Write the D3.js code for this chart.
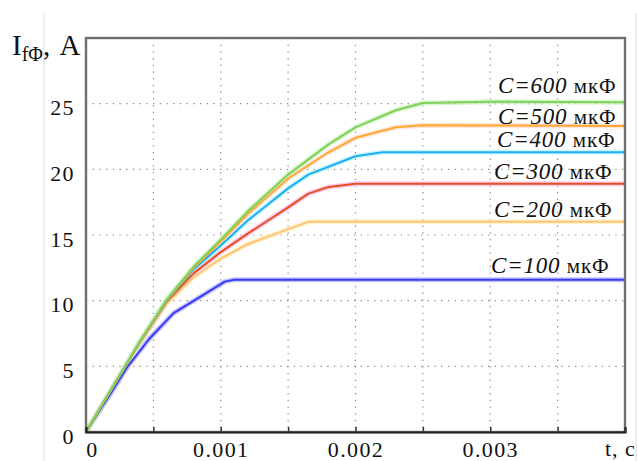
<!DOCTYPE html>
<html>
<head>
<meta charset="utf-8">
<script src="https://cdn.jsdelivr.net/npm/d3@7"></script>
<style>
  html, body { margin: 0; padding: 0; background: #fff; }
  svg { display: block; }
  svg text { font-family: "Liberation Serif", "DejaVu Serif", serif; }
</style>
</head>
<body>
<svg id="chart" width="637" height="461"></svg>
<script>
// I_f(t) for different capacitor values
var capacitances = [100, 200, 300, 400, 500, 600];

var t100 = [0, 0.0002, 0.00031, 0.00047, 0.00065, 0.00085, 0.00103, 0.0011, 0.004];
var i100 = [0, 3.2, 5.0, 7.1, 9.05, 10.3, 11.45, 11.6, 11.6];

var t200 = [0, 0.0002, 0.0004, 0.0006, 0.0008, 0.001, 0.0012, 0.0015, 0.00165, 0.004];
var i200 = [0, 3.4, 6.8, 9.8, 11.8, 13.2, 14.3, 15.45, 16.0, 16.0];

var t300 = [0, 0.0002, 0.0004, 0.0006, 0.0008, 0.001, 0.0012, 0.0015, 0.00165, 0.0018, 0.002, 0.004];
var i300 = [0, 3.45, 6.85, 9.95, 12.1, 13.7, 15.1, 17.1, 18.15, 18.65, 18.9, 18.9];

var t400 = [0, 0.0002, 0.0004, 0.0006, 0.0008, 0.001, 0.0012, 0.0015, 0.00165, 0.002, 0.0022, 0.004];
var i400 = [0, 3.45, 6.85, 10.0, 12.4, 14.2, 16.1, 18.55, 19.6, 21.0, 21.3, 21.3];

var t500 = [0, 0.0002, 0.0004, 0.0006, 0.0008, 0.001, 0.0012, 0.0015, 0.0018, 0.002, 0.0023, 0.0025, 0.004];
var i500 = [0, 3.45, 6.85, 10.05, 12.5, 14.5, 16.6, 19.3, 21.3, 22.4, 23.2, 23.35, 23.3];

var t600 = [0, 0.0002, 0.0004, 0.0006, 0.0008, 0.001, 0.0012, 0.0015, 0.0018, 0.002, 0.0023, 0.0025, 0.003, 0.004];
var i600 = [0, 3.45, 6.9, 10.1, 12.6, 14.65, 16.8, 19.6, 21.9, 23.2, 24.5, 25.05, 25.15, 25.1];

var xTickLabels = [0, 0.001, 0.002, 0.003];
var xGrid = [0.0005, 0.001, 0.0015, 0.002, 0.0025, 0.003, 0.0035];
var yTickLabels = [0, 5, 10, 15, 20, 25];

(function () {
  'use strict';

  var svg = d3.select('#chart');
  var left = 86, top = 38, right = 625, bottom = 432;
  var serif = '"Liberation Serif", "DejaVu Serif", serif';

  var x = d3.scaleLinear().domain([0, 0.004]).range([left, right]);
  var y = d3.scaleLinear().domain([0, 30]).range([bottom, top]);

  var series = [
    { c: 100, t: t100, v: i100, color: '#3a3af5', halo: '#a8a8ff' },
    { c: 200, t: t200, v: i200, color: '#ffc27a', halo: '#fff0b0' },
    { c: 300, t: t300, v: i300, color: '#e6501e', halo: '#f6b8ee' },
    { c: 400, t: t400, v: i400, color: '#1ab0ee', halo: '#b8f0ff' },
    { c: 500, t: t500, v: i500, color: '#ffa830', halo: '#ffd8d0' },
    { c: 600, t: t600, v: i600, color: '#80d05a', halo: '#c8f2b8' }
  ];

  // faint scan edges of the original picture
  svg.append('line').attr('x1', 44).attr('x2', 44).attr('y1', 13).attr('y2', 461)
    .attr('stroke', '#e8e8e8').attr('stroke-width', 1.5);
  svg.append('line').attr('x1', 636).attr('x2', 636).attr('y1', 13).attr('y2', 461)
    .attr('stroke', '#e8e8e8').attr('stroke-width', 1.5);

  // dotted grid
  var grid = svg.append('g').attr('stroke', '#8a8a8a').attr('stroke-width', 1.2)
    .attr('stroke-dasharray', '1.3,5.4');
  xGrid.forEach(function (t) {
    grid.append('line').attr('x1', x(t)).attr('x2', x(t)).attr('y1', top).attr('y2', bottom);
  });
  yTickLabels.slice(1).forEach(function (v) {
    grid.append('line').attr('x1', left).attr('x2', right).attr('y1', y(v)).attr('y2', y(v));
  });

  // curves
  var line = d3.line()
    .x(function (d) { return x(d[0]); })
    .y(function (d) { return y(d[1]); });

  series.forEach(function (s) {
    var pts = s.t.map(function (t, i) { return [t, s.v[i]]; });
    svg.append('path').attr('d', line(pts)).attr('fill', 'none')
      .attr('stroke', s.halo).attr('stroke-width', 5).attr('opacity', 0.7)
      .attr('stroke-linejoin', 'round');
  });
  series.forEach(function (s) {
    var pts = s.t.map(function (t, i) { return [t, s.v[i]]; });
    svg.append('path').attr('d', line(pts)).attr('fill', 'none')
      .attr('stroke', s.color).attr('stroke-width', 2)
      .attr('stroke-linejoin', 'round');
  });

  // frame
  svg.append('rect').attr('x', left).attr('y', top)
    .attr('width', right - left).attr('height', bottom - top)
    .attr('fill', 'none').attr('stroke', '#6e6e6e').attr('stroke-width', 2.4);

  // inward ticks on bottom axis
  svg.append('g').attr('transform', 'translate(0,' + bottom + ')')
    .call(d3.axisBottom(x).tickValues(xGrid.concat([0.004])).tickSize(-5).tickFormat(''))
    .call(function (g) {
      g.select('.domain').attr('stroke', '#222').attr('stroke-width', 2.2);
      g.selectAll('.tick line').attr('stroke', '#333').attr('stroke-width', 1.5);
    });

  // x labels
  svg.append('g').attr('transform', 'translate(0,' + bottom + ')')
    .call(d3.axisBottom(x).tickValues(xTickLabels).tickSize(0).tickPadding(9)
      .tickFormat(function (d) { return d === 0 ? '0' : d3.format('.3f')(d); }))
    .call(function (g) {
      g.attr('font-family', null).attr('font-size', null);
      g.select('.domain').remove();
      g.selectAll('text').style('font-family', serif).style('font-size', '22px')
        .style('letter-spacing', '1.4px').attr('fill', '#111')
        .attr('dx', function (d) { return d === 0 ? 6 : 0; });
    });

  svg.append('text').attr('x', 605).attr('y', 456)
    .style('font-size', '22px').style('letter-spacing', '1px').attr('fill', '#111').text('t, c');

  // y labels
  svg.append('g').attr('transform', 'translate(' + left + ',0)')
    .call(d3.axisLeft(y).tickValues(yTickLabels).tickSize(0).tickPadding(11))
    .call(function (g) {
      g.attr('font-family', null).attr('font-size', null);
      g.select('.domain').remove();
      g.selectAll('text').style('font-family', serif).style('font-size', '22px')
        .style('letter-spacing', '1.4px').attr('fill', '#111').attr('dy', '0.5em');
    });

  // y title
  var yt = svg.append('text').attr('x', 12).attr('y', 55).attr('fill', '#111');
  yt.append('tspan').style('font-size', '29px').text('I');
  yt.append('tspan').style('font-size', '20px').attr('dy', 6).text('fΦ');
  yt.append('tspan').style('font-size', '29px').style('letter-spacing', '1px').attr('dy', -6).text(', A');

  // curve labels
  var labelPos = { 600: [498, 93], 500: [498, 124], 400: [497, 147], 300: [494, 179], 200: [494, 217], 100: [491, 273] };
  capacitances.forEach(function (c) {
    var p = labelPos[c];
    var tx = svg.append('text').attr('x', p[0]).attr('y', p[1]).attr('fill', '#111');
    tx.append('tspan').style('font-size', '23px').style('font-style', 'italic')
      .style('letter-spacing', '0.8px').text('C=' + c);
    tx.append('tspan').style('font-size', '21px').style('letter-spacing', '1px').text(' мкФ');
  });
})();
</script>
</body>
</html>
